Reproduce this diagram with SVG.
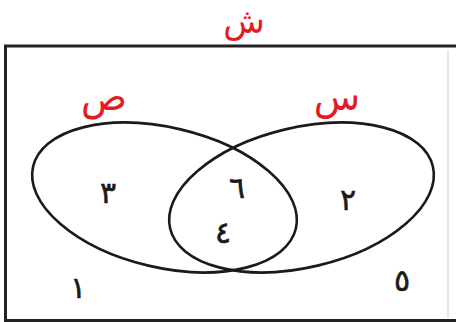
<svg xmlns="http://www.w3.org/2000/svg" width="456" height="322" viewBox="0 0 456 322">
<style>
.frame{fill:none;stroke:#222;stroke-width:3}
.set{fill:none;stroke:#1a1a1a;stroke-width:2.6}
.lbl{font-family:"DejaVu Sans",sans-serif;fill:#e31b23;text-anchor:middle}
.num{font-family:"DejaVu Sans",sans-serif;fill:#1a1a1a;font-size:30px;text-anchor:middle;stroke:#1a1a1a;stroke-width:0.6}
</style>
<rect width="456" height="322" fill="#fff"/>
<g id="universe">
<path class="frame" d="M456 46 H5.5 V320.5 H456"/>
<line x1="448" y1="50" x2="448" y2="318" stroke="#e6e6e6" stroke-width="2"/>
<text class="lbl" x="244" y="33" font-size="34">ش</text>
</g>
<g id="setS">
<ellipse class="set" cx="164.5" cy="197.5" rx="135" ry="70" transform="rotate(13.3 164.5 197.5)"/>
<text class="lbl" x="104" y="110" font-size="38">ص</text>
</g>
<g id="setC">
<ellipse class="set" cx="301.5" cy="197.5" rx="135" ry="70" transform="rotate(-13.3 301.5 197.5)"/>
<text class="lbl" x="337" y="110" font-size="38">س</text>
</g>
<g id="elements">
<text class="num" x="108" y="203">٣</text>
<text class="num" x="237" y="198">٦</text>
<text class="num" x="223" y="243">٤</text>
<text class="num" x="348" y="210">٢</text>
<text class="num" x="78" y="298">١</text>
<text class="num" x="402" y="291">٥</text>
</g>
<g id="connectors"></g>
</svg>
